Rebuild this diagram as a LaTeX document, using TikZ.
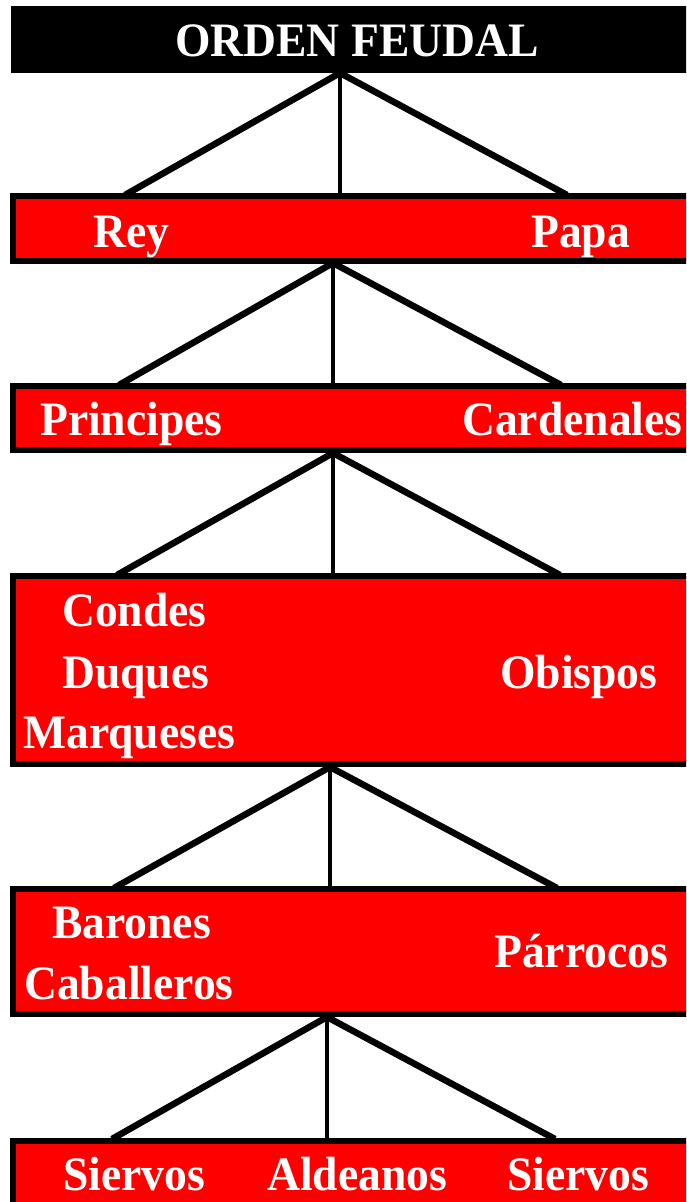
\documentclass[tikz,border=0pt]{standalone}
\usepackage{fontspec}
\setmainfont[FakeStretch=0.95]{Liberation Serif}
\begin{document}
\begin{tikzpicture}[x=1pt,y=-1pt,
  tier/.style={draw=black, fill=red, line width=6pt, inner sep=0pt, outer sep=0pt, anchor=north west, minimum width=700pt},
  headbox/.style={fill=black, inner sep=0pt, outer sep=0pt, anchor=north west, minimum width=700pt, minimum height=67pt},
  lbl/.style={text=white, font=\fontsize{48}{50}\selectfont\bfseries, inner sep=0pt, anchor=base west},
  diag/.style={draw=black, line width=6.5pt},
  vert/.style={draw=black, line width=4.5pt}]
\useasboundingbox (0,0) rectangle (686,1202);
\clip (0,0) rectangle (686,1202);
\fill[white] (0,0) rectangle (686,1202);
% boxes
\node[headbox] (title) at (10.5,6) {};
\node[tier, minimum height=64.5pt] (b1) at (12.5,196) {};
\node[tier, minimum height=64pt] (b2) at (12.5,386) {};
\node[tier, minimum height=188pt] (b3) at (12.5,576) {};
\node[tier, minimum height=125pt] (b4) at (12.5,889) {};
\node[tier, minimum height=110pt] (b5) at (12.5,1140.5) {};
% connector points
\coordinate (a0) at (340,73);
\coordinate (l0) at (125,195); \coordinate (m0) at (340,198); \coordinate (r0) at (567,195);
\coordinate (a1) at (333,263);
\coordinate (l1) at (119,385); \coordinate (m1) at (333,388); \coordinate (r1) at (561,385);
\coordinate (a2) at (333,453);
\coordinate (l2) at (117,575); \coordinate (m2) at (333,578); \coordinate (r2) at (560,575);
\coordinate (a3) at (330,767);
\coordinate (l3) at (114,888); \coordinate (m3) at (330,891); \coordinate (r3) at (557,888);
\coordinate (a4) at (327,1017);
\coordinate (l4) at (112,1139); \coordinate (m4) at (327,1142); \coordinate (r4) at (555,1139);
\foreach \i in {0,...,4}{
  \draw[diag] (a\i) -- (l\i);
  \draw[diag] (a\i) -- (r\i);
  \draw[vert] (a\i) -- (m\i);
}
% labels
\node[lbl] (tt) at (175,56) {ORDEN FEUDAL};
\node[lbl] (rey) at (93,247) {Rey};
\node[lbl] (papa) at (531,247) {Papa};
\node[lbl] (princ) at (40,435) {Principes};
\node[lbl] (card) at (462,435) {Cardenales};
\node[lbl] (cond) at (62,626) {Condes};
\node[lbl] (duq) at (62,688) {Duques};
\node[lbl] (marq) at (23,748) {Marqueses};
\node[lbl] (obis) at (500,688) {Obispos};
\node[lbl] (bar) at (52,938) {Barones};
\node[lbl] (cab) at (24,999) {Caballeros};
\node[lbl] (parr) at (494,967) {Párrocos};
\node[lbl] (sier1) at (63,1190) {Siervos};
\node[lbl] (ald) at (267,1190) {Aldeanos};
\node[lbl] (sier2) at (507,1190) {Siervos};
\end{tikzpicture}
\end{document}
